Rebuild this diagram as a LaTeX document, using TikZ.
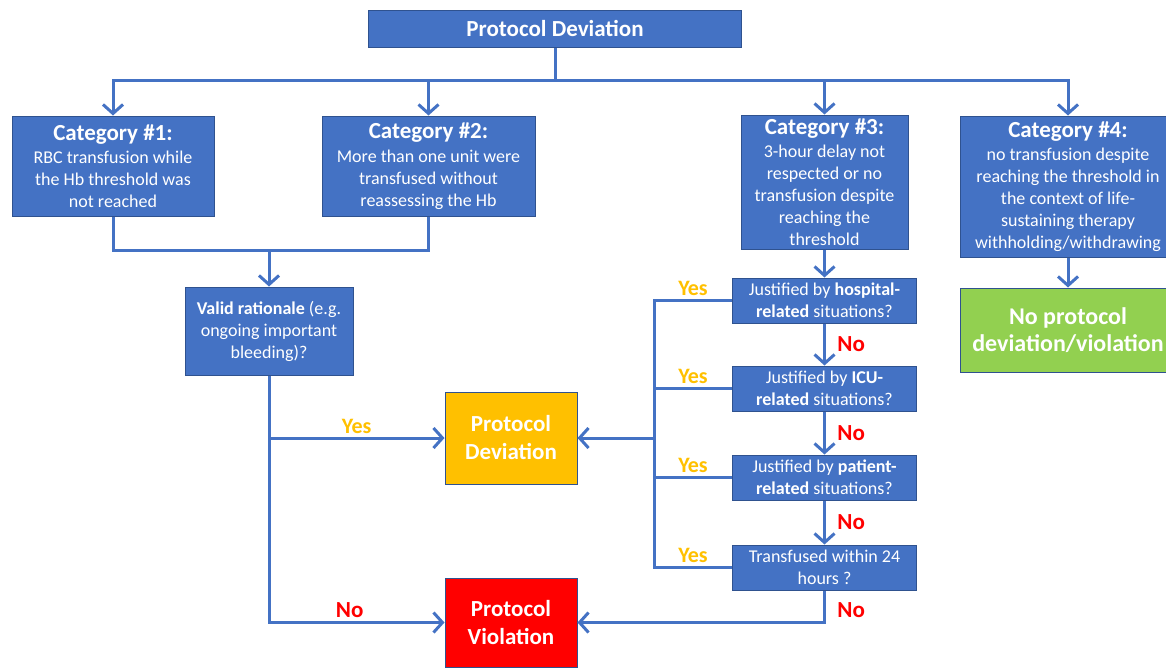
\documentclass[tikz,border=0pt]{standalone}
\usepackage{fontspec}
\setmainfont{Carlito}
\usetikzlibrary{arrows.meta, positioning}
\definecolor{boxblue}{HTML}{4472C4}
\definecolor{edgeblue}{HTML}{2F528F}
\definecolor{devyellow}{HTML}{FFC000}
\definecolor{violred}{HTML}{FF0000}
\definecolor{okgreen}{HTML}{92D050}
\tikzstyle{flow}=[line width=3pt, draw=boxblue, >={Straight Barb[length=9pt,width=20pt]}]
\tikzstyle{block}=[draw=edgeblue, line width=1pt, fill=boxblue, text=white, align=center, inner sep=0pt,
  font=\fontsize{18}{22}\selectfont]
\tikzstyle{question}=[block, minimum width=184pt, minimum height=45pt, font=\fontsize{18}{22}\selectfont]
\tikzstyle{outcome}=[block, font=\bfseries\fontsize{23}{28}\selectfont]
\tikzstyle{yeslabel}=[text=devyellow, font=\bfseries\fontsize{22}{24}\selectfont]
\tikzstyle{nolabel}=[text=violred, font=\bfseries\fontsize{23}{24}\selectfont]
\newcommand{\cathead}[1]{{\bfseries\fontsize{23}{26}\selectfont #1}\\[1.5pt]}

\begin{document}
\begin{tikzpicture}[x=1pt, y=-1pt]
  \useasboundingbox (0,0) rectangle (1166,667);
  \node[block, minimum width=373pt, minimum height=37pt, font=\bfseries\fontsize{23}{26}\selectfont] (top) at (555,28.5) {Protocol Deviation};
  \node[block, minimum width=202pt, minimum height=100pt] (cat1) at (113,166) {\cathead{Category \#1:}RBC transfusion while\\the Hb threshold was\\not reached};
  \node[block, minimum width=213pt, minimum height=100pt] (cat2) at (428.5,166) {\cathead{Category \#2:}More than one unit were\\transfused without\\reassessing the Hb};
  \node[block, minimum width=167pt, minimum height=134pt] (cat3) at (824.5,182) {\cathead{Category \#3:}3-hour delay not\\respected or no\\transfusion despite\\reaching the\\threshold};
  \node[block, minimum width=216pt, minimum height=141pt] (cat4) at (1068,186.5) {\cathead{Category \#4:}no transfusion despite\\reaching the threshold in\\the context of life-\\sustaining therapy\\withholding/withdrawing};
  \node[block, minimum width=168pt, minimum height=88pt] (valid) at (269,331) {\textbf{Valid rationale} (e.g.\\ongoing important\\bleeding)?};
  \node[outcome, fill=devyellow, minimum width=132pt, minimum height=92pt] (dev) at (511,438) {Protocol\\Deviation};
  \node[outcome, fill=violred, minimum width=132pt, minimum height=89pt] (viol) at (511,622.5) {Protocol\\Violation};
  \node[outcome, fill=okgreen, minimum width=216pt, minimum height=84pt, font=\bfseries\fontsize{24}{27}\selectfont] (none) at (1068,330) {No protocol\\deviation/violation};
  \node[question] (hosp) at (824.5,300.5) {Justified by \textbf{hospital-}\\\textbf{related} situations?};
  \node[question] (icu) [below=42pt of hosp] {Justified by \textbf{ICU-}\\\textbf{related} situations?};
  \node[question] (pat) [below=43pt of icu] {Justified by \textbf{patient-}\\\textbf{related} situations?};
  \node[question] (trans) [below=44pt of pat] {Transfused within 24\\hours ?};

  \coordinate (bar) at (555,80);
  \coordinate (join) at (269,250);
  \coordinate (ybar) at (654,438);

  \draw[flow] (top.south) -- (bar);
  \draw[flow,->] (bar) -| (cat1.north);
  \draw[flow,->] (bar) -| (cat2.north);
  \draw[flow,->] (bar) -| (cat3.north);
  \draw[flow,->] (bar) -| (cat4.north);
  \draw[flow] (cat1.south) |- (join);
  \draw[flow] (cat2.south) |- (join);
  \draw[flow,->] (join) -- (valid.north);
  \draw[flow,->] (valid.south |- dev.west) -- (dev.west) node[yeslabel, midway, above] {Yes};
  \draw[flow,->] (valid.south) |- (viol.west) node[nolabel, pos=0.73, above] {No};
  \draw[flow,->] (cat3.south) -- (hosp.north);
  \draw[flow,->] (cat4.south) -- (none.north);
  \draw[flow,->] (hosp) -- (icu) node[nolabel, midway, right, xshift=8pt] {No};
  \draw[flow,->] (icu) -- (pat) node[nolabel, midway, right, xshift=8pt] {No};
  \draw[flow,->] (pat) -- (trans) node[nolabel, midway, right, xshift=8pt] {No};
  \draw[flow,->] (trans.south) |- (viol.east) node[nolabel, pos=0.3, right, xshift=8pt] {No};
  \draw[flow] (hosp.west) -- (hosp.west -| ybar) node[yeslabel, midway, above] {Yes} -- (trans.west -| ybar) -- (trans.west) node[yeslabel, midway, above] {Yes};
  \draw[flow] (icu.west) -- (icu.west -| ybar) node[yeslabel, midway, above] {Yes};
  \draw[flow] (pat.west) -- (pat.west -| ybar) node[yeslabel, midway, above] {Yes};
  \draw[flow,->] (ybar) -- (dev.east);
\end{tikzpicture}
\end{document}
